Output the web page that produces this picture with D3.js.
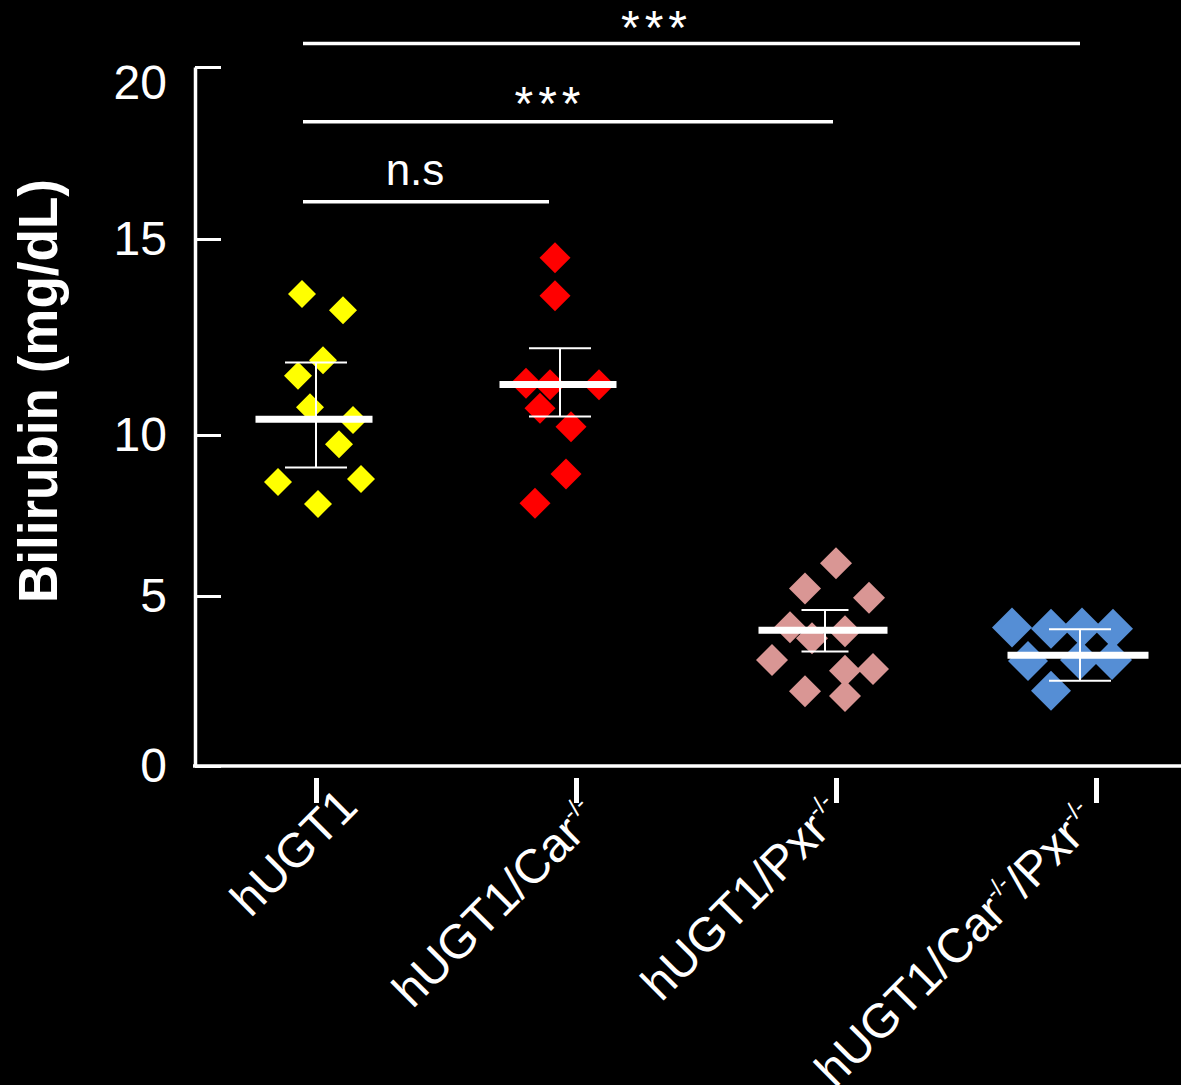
<!DOCTYPE html>
<html>
<head>
<meta charset="utf-8">
<script src="https://cdn.jsdelivr.net/npm/d3@7"></script>
<style>
  html, body { margin: 0; padding: 0; background: #000; }
  svg { display: block; }
</style>
</head>
<body>
<div id="chart"></div>
<script>
// ── Data ──
const groups = ['hUGT1', 'hUGT1/Car-/-', 'hUGT1/Pxr-/-', 'hUGT1/Car-/-/Pxr-/-'];
// label pieces: [text, isSuperscript]
const labelParts = [
  [['hUGT1', 0]],
  [['hUGT1/Car', 0], ['-/-', 1]],
  [['hUGT1/Pxr', 0], ['-/-', 1]],
  [['hUGT1/Car', 0], ['-/-', 1], ['/Pxr', 0], ['-/-', 1]]
];
const colors = ['#ffff00', '#ff0000', '#d99694', '#558ed5'];

// bilirubin per animal (mg/dL) and horizontal jitter (fraction)
const wtValues  = [13.60, 13.18, 11.91, 11.51, 10.71, 10.38, 9.71, 8.54, 8.63, 7.86];
const wtJitter  = [-0.12, 0.29, 0.09, -0.16, -0.04, 0.39, 0.25, -0.36, 0.47, 0.04];
const carValues = [14.52, 13.55, 11.32, 11.28, 11.28, 10.68, 10.21, 8.79, 7.88];
const carJitter = [-0.03, -0.03, -0.32, -0.08, 0.41, -0.18, 0.13, 0.08, -0.23];
const pxrValues = [6.02, 5.23, 4.95, 4.08, 3.76, 3.96, 3.12, 2.80, 2.85, 2.20, 2.06];
const pxrJitter = [0.13, -0.18, 0.46, -0.33, -0.11, 0.22, -0.51, 0.22, 0.50, -0.18, 0.22];
const dkoValues = [4.07, 4.04, 4.07, 4.04, 3.09, 3.12, 3.12, 2.21];
const dkoJitter = [-0.66, -0.27, 0.04, 0.35, -0.50, 0.02, 0.34, -0.27];

const means   = [10.40, 11.29, 3.99, 3.26];
const errLow  = [8.99, 10.47, 3.37, 2.51];
const errHigh = [11.85, 12.21, 4.59, 4.02];

const yTicks = [0, 5, 10, 15, 20];

const comparisons = [
  { a: 0, b: 1, label: 'n.s', level: 16.08 },
  { a: 0, b: 2, label: '***', level: 18.41 },
  { a: 0, b: 3, label: '***', level: 20.68 }
];

// ── Layout ──
const W = 1181, H = 1085;
const axisX = 195, axisY = 766;
const clusterShift = [-2, -18, -13, -18];
const markSize = [392, 480, 512, 800];
const meanW = [117, 117, 129, 141];
const capW = [62, 62, 47, 62];
const labelNudge = [[44, 43], [26, 54], [11, 51], [5, 57]];
const bracketEnd = [-9, 10, 2];
const textShift = [-11, -18, -35];
const textLift = [17, 2, 0];

const svg = d3.select('#chart').append('svg')
  .attr('width', W).attr('height', H);
svg.append('rect').attr('width', W).attr('height', H).attr('fill', '#000');

const y = d3.scaleLinear().domain(yTicks).range([766, 596, 435, 239, 67]);
const x = d3.scalePoint().domain(groups).range([316, 1096]);
const jitter = d3.scaleLinear().domain([-1, 1]).range([-100, 100]);
const cx = i => x(groups[i]) + clusterShift[i];

const series = [
  { v: wtValues, j: wtJitter },
  { v: carValues, j: carJitter },
  { v: pxrValues, j: pxrJitter },
  { v: dkoValues, j: dkoJitter }
];

// ── Points ──
series.forEach((s, i) => {
  const pts = s.v.map((v, k) => ({ v, j: s.j[k] }));
  svg.append('g').selectAll('path')
    .data(pts).enter().append('path')
    .attr('d', d3.symbol(d3.symbolSquare, markSize[i]))
    .attr('transform', d => `translate(${cx(i) + jitter(d.j)},${y(d.v)}) rotate(45)`)
    .attr('fill', colors[i]);
});

// ── Mean and error bars ──
groups.forEach((g, i) => {
  const c = cx(i);
  const gg = svg.append('g').attr('stroke', '#fff');
  gg.append('line')
    .attr('x1', c + 2).attr('x2', c + 2)
    .attr('y1', y(errHigh[i])).attr('y2', y(errLow[i]))
    .attr('stroke-width', 2);
  [errHigh[i], errLow[i]].forEach(e => {
    gg.append('line')
      .attr('x1', c + 2 - capW[i] / 2).attr('x2', c + 2 + capW[i] / 2)
      .attr('y1', y(e)).attr('y2', y(e))
      .attr('stroke-width', 2);
  });
  gg.append('line')
    .attr('x1', c - meanW[i] / 2).attr('x2', c + meanW[i] / 2)
    .attr('y1', y(means[i])).attr('y2', y(means[i]))
    .attr('stroke-width', 7);
});

// ── Y axis ──
const yAxis = svg.append('g')
  .attr('transform', `translate(${axisX},0)`)
  .call(d3.axisLeft(y).tickValues(yTicks).tickSize(-26).tickSizeOuter(0).tickPadding(28));
yAxis.select('.domain').attr('stroke', '#fff').attr('stroke-width', 3.5);
yAxis.selectAll('.tick line').attr('stroke', '#fff').attr('stroke-width', 3);
yAxis.selectAll('.tick text')
  .attr('fill', '#fff')
  .attr('dy', d => d === 20 ? '0.65em' : '0.32em')
  .style('font-family', '"Liberation Sans", Arial, sans-serif')
  .style('font-size', '48px');

// ── X axis ──
svg.append('line')
  .attr('x1', axisX - 2).attr('x2', W)
  .attr('y1', axisY).attr('y2', axisY)
  .attr('stroke', '#fff').attr('stroke-width', 3.5);

const xAxis = svg.append('g')
  .attr('transform', `translate(0,${axisY + 12})`)
  .call(d3.axisBottom(x).tickSize(25).tickFormat(''));
xAxis.select('.domain').remove();
xAxis.selectAll('.tick line').attr('stroke', '#fff').attr('stroke-width', 5);

groups.forEach((g, i) => {
  const t = svg.append('text')
    .attr('transform', `translate(${x(g) + labelNudge[i][0]},${axisY + labelNudge[i][1]}) rotate(-45)`)
    .attr('text-anchor', 'end')
    .attr('fill', '#fff')
    .style('font-family', '"Liberation Sans", Arial, sans-serif')
    .style('font-size', '48px');
  let raised = false;
  labelParts[i].forEach(([txt, sup]) => {
    const sp = t.append('tspan').text(txt);
    if (sup && !raised) { sp.attr('dy', -20).style('font-size', '24px'); raised = true; }
    else if (sup) { sp.style('font-size', '24px'); }
    else if (raised) { sp.attr('dy', 20); raised = false; }
  });
});

// ── Y title ──
svg.append('text')
  .attr('transform', 'translate(57,391) rotate(-90)')
  .attr('text-anchor', 'middle')
  .attr('fill', '#fff')
  .attr('textLength', 424)
  .attr('lengthAdjust', 'spacingAndGlyphs')
  .style('font-family', '"Liberation Sans", Arial, sans-serif')
  .style('font-weight', 'bold')
  .style('font-size', '56px')
  .text('Bilirubin (mg/dL)');

// ── Significance brackets ──
comparisons.forEach((c, k) => {
  const x1 = cx(c.a) - 11, x2 = cx(c.b) + bracketEnd[k];
  const ly = y(c.level);
  svg.append('line')
    .attr('x1', x1).attr('x2', x2).attr('y1', ly).attr('y2', ly)
    .attr('stroke', '#fff').attr('stroke-width', 3.5);
  const isNs = c.label === 'n.s';
  svg.append('text')
    .attr('x', (x1 + x2) / 2 + textShift[k])
    .attr('y', ly - textLift[k])
    .attr('text-anchor', 'middle')
    .attr('fill', '#fff')
    .style('font-family', '"Liberation Sans", Arial, sans-serif')
    .style('font-size', isNs ? '44px' : '48px')
    .style('letter-spacing', isNs ? '0px' : '5px')
    .text(c.label);
});
</script>
</body>
</html>
